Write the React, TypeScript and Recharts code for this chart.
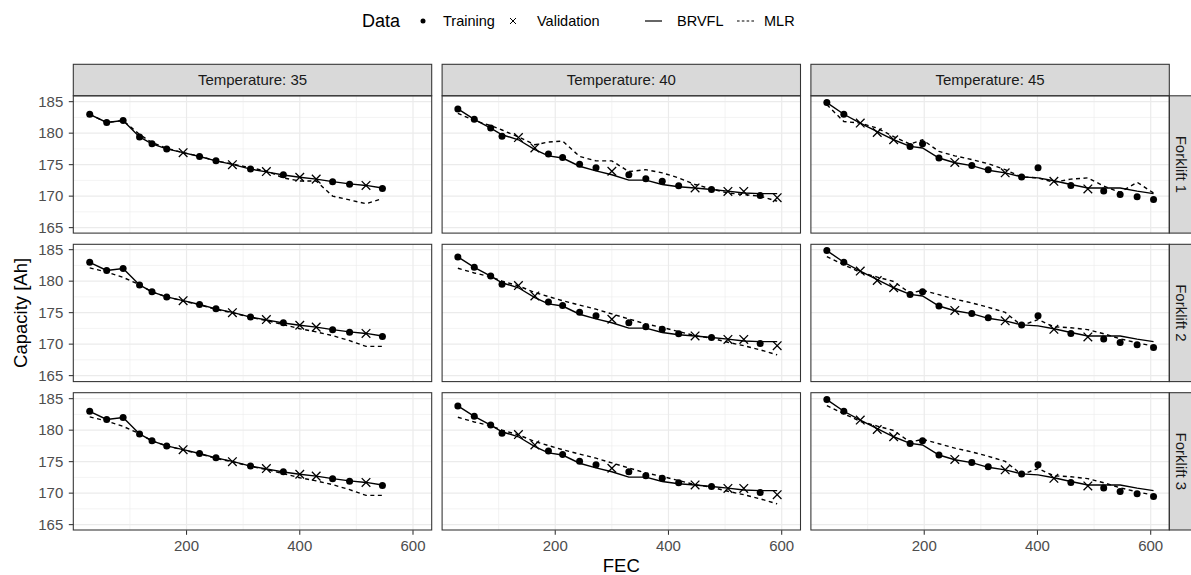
import React from "react";
import { CartesianGrid, ComposedChart, Line, Scatter, XAxis, YAxis } from "recharts";

const temperatures = ["35", "40", "45"];
const forklifts = ["Forklift 1", "Forklift 2", "Forklift 3"];

// Temperature 35
const fec35 = [29, 59, 88, 117, 139, 165, 194, 223, 252, 281, 313, 341, 371, 400, 429, 458, 488, 517, 546];
const cap35 = [183.0, 181.7, 182.0, 179.4, 178.3, 177.5, 176.9, 176.3, 175.6, 175.0, 174.3, 173.9, 173.4, 173.0, 172.7, 172.3, 171.9, 171.7, 171.2];
const set35 = "TTTTTTVTTVTVTVVTTVT";
const brvfl35 = [183.0, 181.7, 182.0, 179.4, 178.3, 177.5, 176.9, 176.3, 175.6, 175.05, 174.3, 173.85, 173.35, 173.0, 172.7, 172.3, 171.95, 171.7, 171.3];
const mlr35F1 = [183.0, 181.7, 182.0, 179.8, 178.5, 177.6, 176.9, 176.35, 175.6, 175.1, 174.5, 174.0, 172.9, 172.4, 172.4, 170.0, 169.4, 168.8, 169.6];
const mlr35F23 = [182.1, 181.45, 180.6, 179.45, 178.3, 177.5, 176.85, 176.25, 175.5, 175.0, 174.25, 173.75, 173.1, 172.45, 171.95, 171.35, 170.55, 169.65, 169.65];

// Temperature 40
const fec40 = [28, 57, 86, 106, 135, 164, 188, 213, 243, 272, 300, 330, 360, 389, 418, 447, 476, 505, 533, 562, 592];
const cap40 = [183.85, 182.2, 180.8, 179.5, 179.3, 177.65, 176.7, 176.15, 175.05, 174.5, 173.95, 173.4, 172.75, 172.35, 171.65, 171.3, 171.05, 170.75, 170.75, 170.1, 169.75];
const set40 = "TTTTVVTTTTVTTTTVTVVTV";
const brvfl40 = [183.85, 182.2, 180.8, 179.75, 178.95, 177.4, 176.4, 176.05, 174.75, 174.0, 173.4, 172.55, 172.55, 171.85, 171.5, 171.3, 171.05, 170.8, 170.5, 170.4, 170.4];
const mlr40F1 = [183.15, 182.0, 181.2, 180.5, 179.4, 178.15, 178.6, 178.75, 176.3, 175.6, 175.6, 173.9, 174.2, 173.7, 172.9, 171.85, 171.15, 170.5, 170.25, 170.0, 169.2];
const mlr40F23 = [182.05, 181.3, 180.7, 180.0, 179.25, 178.2, 177.55, 176.9, 176.2, 175.55, 174.8, 174.0, 173.2, 172.65, 172.0, 171.35, 170.95, 170.3, 169.75, 169.1, 168.3];

// Temperature 45
const fec45 = [28, 58, 87, 117, 146, 175, 197, 226, 254, 284, 313, 343, 372, 401, 429, 459, 489, 517, 546, 576, 605];
const cap45 = [184.85, 183.0, 181.6, 180.1, 178.95, 177.9, 178.3, 176.05, 175.35, 174.85, 174.2, 173.7, 173.05, 174.5, 172.35, 171.7, 171.15, 170.8, 170.25, 169.9, 169.45];
const set45 = "TTVVVTTTVTTVTTVTVTTTT";
const brvfl45 = [184.85, 183.0, 181.6, 180.25, 178.95, 177.9, 177.65, 176.05, 175.3, 174.85, 174.1, 173.7, 173.05, 172.9, 172.45, 171.85, 171.3, 171.3, 171.3, 170.8, 170.4];
const mlr45F1 = [184.5, 181.85, 181.6, 180.8, 179.45, 178.25, 178.95, 177.1, 176.4, 175.8, 175.15, 174.2, 173.05, 172.9, 172.2, 172.7, 172.9, 171.6, 170.6, 172.2, 170.5];
const mlr45F23 = [183.9, 182.6, 181.4, 180.65, 179.95, 178.1, 178.55, 177.85, 177.15, 176.55, 175.85, 175.05, 172.95, 173.9, 172.75, 172.6, 172.3, 171.65, 170.85, 170.2, 169.7];

const xTicks = [200, 400, 600];
const xMinor = [100, 300, 500];
const yTicks = [165, 170, 175, 180, 185];
const yMinor = [167.5, 172.5, 177.5, 182.5];

const columns = [
  { fec: fec35, cap: cap35, set: set35, brvfl: brvfl35, mlr: [mlr35F1, mlr35F23, mlr35F23] },
  { fec: fec40, cap: cap40, set: set40, brvfl: brvfl40, mlr: [mlr40F1, mlr40F23, mlr40F23] },
  { fec: fec45, cap: cap45, set: set45, brvfl: brvfl45, mlr: [mlr45F1, mlr45F23, mlr45F23] },
];

const FONT = "'Liberation Sans', Arial, Helvetica, sans-serif";
const PANEL_W = 358.4;
const PANEL_H = 137.3;
const COL_LEFT = [73.3, 442.1, 810.9];
const ROW_TOP = [95.8, 244.3, 392.7];
const STRIP_H = 31.5;
const PAD = 10; // room above/below the plot so edge tick labels are not clipped

const TrainingDot = (p: any) => <circle cx={p.cx} cy={p.cy} r={3.5} fill="#000" />;
const ValidationCross = (p: any) => {
  const d = 4.3;
  return (
    <path
      d={`M${p.cx - d},${p.cy - d}L${p.cx + d},${p.cy + d}M${p.cx - d},${p.cy + d}L${p.cx + d},${p.cy - d}`}
      stroke="#000"
      strokeWidth={1.3}
      fill="none"
    />
  );
};

function Panel({ col, row }: { col: number; row: number }) {
  const c = columns[col];
  const mlr = c.mlr[row];
  const rows = c.fec.map((x, i) => ({ x, cap: c.cap[i], brvfl: c.brvfl[i], mlr: mlr[i], set: c.set[i] }));
  const training = rows.filter((r) => r.set === "T");
  const validation = rows.filter((r) => r.set === "V");
  const showY = col === 0;
  const showX = row === 2;
  const yW = showY ? COL_LEFT[0] : 0;
  const xH = showX ? 40 : 0;

  return (
    <div style={{ position: "absolute", left: COL_LEFT[col] - yW, top: ROW_TOP[row] - PAD }}>
      <ComposedChart
        width={PANEL_W + yW}
        height={PANEL_H + xH + PAD * 2}
        data={rows}
        margin={{ top: PAD, right: 0, bottom: PAD, left: 0 }}
      >
        <CartesianGrid stroke="#EBEBEB" strokeWidth={0.6} horizontalValues={yMinor} verticalValues={xMinor} />
        <CartesianGrid stroke="#EBEBEB" strokeWidth={1.2} horizontalValues={yTicks} verticalValues={xTicks} />
        <XAxis
          type="number"
          dataKey="x"
          domain={[0, 633]}
          ticks={xTicks}
          interval={0}
          hide={!showX}
          height={xH}
          axisLine={false}
          tickSize={4.5}
          tickMargin={6}
          tickLine={{ stroke: "#333333", strokeWidth: 1.07 }}
          tick={{ fontSize: 15, fill: "#4D4D4D", fontFamily: FONT }}
        />
        <YAxis
          type="number"
          domain={[164.1, 185.9]}
          ticks={yTicks}
          interval={0}
          hide={!showY}
          width={yW}
          axisLine={false}
          tickSize={4.5}
          tickMargin={5.5}
          tickLine={{ stroke: "#333333", strokeWidth: 1.07 }}
          tick={{ fontSize: 15, fill: "#4D4D4D", fontFamily: FONT }}
        />
        <Line
          dataKey="mlr"
          stroke="#000"
          strokeWidth={1.4}
          strokeDasharray="4 3.5"
          dot={false}
          activeDot={false}
          isAnimationActive={false}
        />
        <Line dataKey="brvfl" stroke="#000" strokeWidth={1.4} dot={false} activeDot={false} isAnimationActive={false} />
        <Scatter data={training} dataKey="cap" shape={TrainingDot} isAnimationActive={false} />
        <Scatter data={validation} dataKey="cap" shape={ValidationCross} isAnimationActive={false} />
      </ComposedChart>
    </div>
  );
}

function Overlay() {
  const right = COL_LEFT[2] + PANEL_W;
  return (
    <svg
      width={1191}
      height={575}
      style={{ position: "absolute", left: 0, top: 0, pointerEvents: "none", fontFamily: FONT }}
    >
      {/* legend */}
      <text x={362} y={27} fontSize={18} fill="#000">Data</text>
      <circle cx={423} cy={21} r={2.5} fill="#000" />
      <text x={443} y={26} fontSize={14.5} fill="#000">Training</text>
      <path d="M510,18L516,24M510,24L516,18" stroke="#000" strokeWidth={1} />
      <text x={537} y={26} fontSize={14.5} fill="#000">Validation</text>
      <line x1={645} x2={662} y1={21} y2={21} stroke="#000" strokeWidth={1.2} />
      <text x={677} y={26} fontSize={14.5} fill="#000">BRVFL</text>
      <line x1={737} x2={755} y1={21} y2={21} stroke="#000" strokeWidth={1.2} strokeDasharray="2.6 2.2" />
      <text x={764} y={26} fontSize={14.5} fill="#000">MLR</text>

      {/* top strips */}
      {temperatures.map((t, i) => (
        <g key={t}>
          <rect x={COL_LEFT[i]} y={ROW_TOP[0] - STRIP_H} width={PANEL_W} height={STRIP_H} fill="#D9D9D9" stroke="#333333" strokeWidth={1.07} />
          <text
            x={COL_LEFT[i] + PANEL_W / 2}
            y={ROW_TOP[0] - STRIP_H / 2 + 5}
            textAnchor="middle"
            fontSize={15}
            fill="#1A1A1A"
          >
            {`Temperature: ${t}`}
          </text>
        </g>
      ))}

      {/* right strips */}
      {forklifts.map((f, j) => (
        <g key={f}>
          <rect x={right} y={ROW_TOP[j]} width={STRIP_H} height={PANEL_H} fill="#D9D9D9" stroke="#333333" strokeWidth={1.07} />
          <text
            x={0}
            y={0}
            textAnchor="middle"
            fontSize={15}
            fill="#1A1A1A"
            transform={`translate(${right + 6.3},${ROW_TOP[j] + PANEL_H / 2}) rotate(90)`}
          >
            {f}
          </text>
        </g>
      ))}

      {/* panel borders */}
      {ROW_TOP.map((top, j) =>
        COL_LEFT.map((left, i) => (
          <rect key={`${i}-${j}`} x={left} y={top} width={PANEL_W} height={PANEL_H} fill="none" stroke="#333333" strokeWidth={1.07} />
        ))
      )}

      {/* axis titles */}
      <text x={(COL_LEFT[0] + right) / 2} y={572} textAnchor="middle" fontSize={18.5} fill="#000">FEC</text>
      <text
        x={0}
        y={0}
        textAnchor="middle"
        fontSize={18.5}
        fill="#000"
        transform={`translate(27,${(ROW_TOP[0] + ROW_TOP[2] + PANEL_H) / 2}) rotate(-90)`}
      >
        Capacity [Ah]
      </text>
    </svg>
  );
}

export default function App() {
  return (
    <div style={{ position: "absolute", left: 0, top: 0, width: 1191, height: 575, background: "#fff", overflow: "hidden" }}>
      {[0, 1, 2].map((row) => [0, 1, 2].map((col) => <Panel key={`${row}-${col}`} row={row} col={col} />))}
      <Overlay />
    </div>
  );
}
